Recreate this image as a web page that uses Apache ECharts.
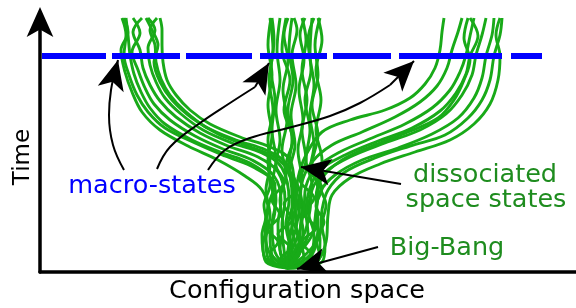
<!DOCTYPE html>
<html>
<head>
<meta charset="utf-8">
<script src="https://cdn.jsdelivr.net/npm/echarts@6/dist/echarts.min.js"></script>
<style>
  html, body { margin: 0; padding: 0; background: #fff; }
  #chart { width: 576px; height: 308px; }
</style>
</head>
<body>
<div id="chart"></div>
<script>
// configuration space (x) vs time (t); Big-Bang at the bottom
var middleStems = [
  [[247,2],[232,15],[230,35],[235,60],[232,85],[236,110],[232,140],[235,170],[231,200],[234,230],[232,252]],
  [[247,2],[240,20],[243,45],[240,70],[246,95],[242,120],[247,150],[243,180],[248,210],[244,235],[248,252]],
  [[247,2],[252,20],[248,45],[254,70],[250,100],[255,125],[251,155],[256,185],[252,215],[257,240],[254,252]],
  [[247,2],[260,18],[263,40],[258,65],[262,90],[258,120],[263,150],[259,180],[264,210],[260,235],[265,252]],
  [[247,2],[270,15],[274,35],[268,60],[272,85],[266,110],[270,140],[265,170],[271,200],[268,230],[274,252]],
  [[247,2],[278,12],[280,30],[276,55],[278,80],[272,105],[278,135],[272,165],[278,195],[275,225],[280,252]],
  [[247,2],[228,12],[226,30],[230,55],[226,80],[230,105],[228,130],[233,160],[229,190],[233,220],[230,252]],
  [[247,2],[226,8],[223,25],[227,45],[224,65],[230,85],[228,110],[232,135],[228,165],[232,195],[228,225],[231,252]],
  [[247,2],[282,8],[285,25],[282,45],[286,65],[280,85],[282,110],[276,140],[281,170],[276,200],[282,230],[278,252]],
  [[247,2],[254,12],[260,30],[251,55],[257,80],[246,105],[253,130],[244,160],[250,190],[242,220],[246,252]],
  [[247,2],[236,6],[230,16],[238,28],[228,40],[240,55],[232,70],[244,88],[236,105],[240,130],[236,160],[240,190],[237,220],[240,252]],
  [[247,2],[262,5],[272,14],[262,28],[276,42],[264,56],[274,72],[260,90],[266,110],[262,140],[267,170],[262,200],[266,230],[262,252]],
  [[247,2],[240,10],[250,22],[238,36],[252,50],[244,66],[256,80],[248,100],[252,130],[248,160],[253,190],[249,220],[252,252]],
  [[247,2],[270,4],[280,14],[276,30],[284,48],[276,64],[282,82],[270,100],[274,125],[270,155],[274,185],[270,215],[272,252]]
];
var leftBranch = [
  [[247,2],[228,20],[225,45],[230,70],[235,85],[215,102],[185,114],[155,127],[125,142],[108,158],[97,175],[89,195],[84,215],[86,235],[82,252]],
  [[247,2],[235,18],[232,45],[236,70],[232,90],[210,107],[180,118],[152,130],[125,146],[110,162],[101,178],[94,196],[90,215],[88,235],[86,252]],
  [[247,2],[240,20],[238,45],[241,70],[234,94],[212,110],[183,121],[155,134],[130,150],[114,166],[105,182],[98,200],[92,218],[100,237],[93,252]],
  [[247,2],[244,20],[242,45],[245,70],[238,98],[218,113],[188,124],[160,137],[136,153],[120,169],[110,185],[103,202],[100,220],[93,238],[102,252]],
  [[247,2],[250,20],[246,45],[249,70],[242,102],[222,117],[192,127],[163,140],[141,156],[125,172],[116,188],[110,205],[108,222],[115,240],[108,252]],
  [[247,2],[256,20],[252,45],[252,72],[246,106],[226,120],[196,130],[166,143],[145,159],[130,175],[121,191],[116,208],[115,225],[110,240],[117,252]],
  [[247,2],[260,18],[256,45],[255,75],[250,110],[230,123],[200,133],[170,146],[150,160],[136,175],[127,190],[123,208],[122,225],[122,240],[120,252]],
  [[247,2],[225,12],[222,35],[228,60],[222,80],[205,94],[178,110],[148,124],[120,140],[102,158],[92,178],[85,198],[81,220],[88,238],[84,252]],
  [[247,2],[264,12],[260,35],[262,65],[254,92],[236,112],[208,124],[178,136],[152,152],[132,170],[120,188],[114,208],[118,225],[112,240],[106,252]]
];
var rightBranch = [
  [[247,2],[265,15],[280,35],[282,60],[288,80],[305,98],[335,112],[370,124],[405,135],[428,152],[442,170],[450,190],[454,214],[460,235],[462,252]],
  [[247,2],[260,18],[272,35],[276,58],[280,78],[295,95],[322,110],[358,122],[392,136],[418,152],[434,172],[442,192],[446,214],[452,235],[454,252]],
  [[247,2],[255,20],[265,38],[270,60],[272,80],[285,98],[310,113],[345,127],[380,140],[406,156],[422,175],[432,195],[436,215],[442,235],[446,252]],
  [[247,2],[258,18],[268,36],[266,58],[270,82],[280,100],[305,115],[338,129],[372,142],[400,159],[416,177],[426,196],[430,214],[438,234],[430,252]],
  [[247,2],[252,20],[260,40],[264,62],[266,84],[276,102],[300,118],[332,132],[365,146],[392,162],[410,180],[420,198],[426,215],[430,234],[434,252]],
  [[247,2],[250,20],[256,42],[260,65],[262,88],[272,108],[292,125],[322,138],[355,153],[380,168],[397,184],[407,202],[412,220],[418,238],[422,252]],
  [[247,2],[248,20],[252,44],[256,68],[258,92],[266,115],[282,138],[310,150],[345,160],[370,172],[385,186],[395,202],[400,220],[402,238],[404,252]],
  [[247,2],[276,8],[286,28],[288,55],[292,75],[310,92],[340,106],[375,118],[410,130],[434,146],[450,166],[458,190],[460,214],[456,235],[460,252]],
  [[247,2],[266,8],[276,25],[278,48],[276,72],[282,92],[302,110],[332,124],[368,138],[398,152],[414,170],[424,190],[430,210],[424,232],[428,252]]
];
var macroLevel = [[2,214],[502,214]];
var macroDash = [64,6,68,6,66,8,67,6,58,8,103,9,31,100];

// annotation arrows (body, then head segment ending at the tip)
var arrowBodies = [
  [[84,100],[73,125],[69,155],[71,180],[76,202]],
  [[117,101],[130,123],[160,147],[190,167],[215,183]],
  [[168,100],[185,120],[210,132],[248,142],[290,154],[320,167],[350,185]]
];
var arrowHeads = [
  [[76,202],[78,210]],
  [[215,183],[229,207]],
  [[350,185],[374,209]],
  [[361,86],[261,103]],
  [[338,23],[257,1]]
];

var green = '#18aa18';
var series = [];
middleStems.concat(leftBranch, rightBranch).forEach(function (c) {
  series.push({
    type: 'line', data: c, smooth: 0.35, showSymbol: false, clip: false, silent: true,
    lineStyle: { color: green, width: 2.9 }, z: 2
  });
});
series.push({
  type: 'line', data: macroLevel, showSymbol: false, silent: true,
  lineStyle: { color: '#0000ff', width: 6, type: macroDash, cap: 'butt' }, z: 5
});
arrowBodies.forEach(function (c) {
  series.push({
    type: 'line', data: c, smooth: 0.4, showSymbol: false, silent: true,
    lineStyle: { color: '#000', width: 2 }, z: 6
  });
});
series.push({
  type: 'lines', coordinateSystem: 'cartesian2d', silent: true, z: 6,
  symbol: ['none', 'arrow'], symbolSize: [[1, 1], [20, 30]],
  lineStyle: { color: '#000', width: 2, opacity: 1 },
  data: arrowHeads.map(function (h) { return { coords: h }; })
});

var font = '25.5px "DejaVu Sans"';
function label(text, x, y, color, rot, f) {
  return {
    type: 'text', x: x, y: y, rotation: rot || 0, silent: true, z: 10,
    style: { text: text, fill: color, font: f || font, textAlign: 'center', textVerticalAlign: 'middle', align: 'center', verticalAlign: 'middle' }
  };
}

var chart = echarts.init(document.getElementById('chart'), null, { renderer: 'canvas' });
chart.setOption({
  animation: false,
  backgroundColor: '#fff',
  grid: { left: 40, right: 0, top: 22, bottom: 36 },
  xAxis: {
    type: 'value', min: 0, max: 536,
    axisLine: { show: true, onZero: false, lineStyle: { color: '#000', width: 3.5 } },
    axisTick: { show: false }, axisLabel: { show: false }, splitLine: { show: false }
  },
  yAxis: {
    type: 'value', min: -2, max: 248,
    axisLine: { show: true, onZero: false, symbol: ['none', 'arrow'], symbolSize: [20, 30], symbolOffset: [0, 15], lineStyle: { color: '#000', width: 3.5 } },
    axisTick: { show: false }, axisLabel: { show: false }, splitLine: { show: false }
  },
  graphic: [
    label('Time', 23, 157, '#000', Math.PI / 2, '23px "DejaVu Sans"'),
    label('Configuration space', 297, 291, '#000'),
    label('macro-states', 152, 186, '#0000ff'),
    label('dissociated', 485, 175, '#1e8c1e'),
    label('space states', 486, 200, '#1e8c1e'),
    label('Big-Bang', 447, 248, '#1e8c1e')
  ],
  series: series
});
</script>
</body>
</html>
